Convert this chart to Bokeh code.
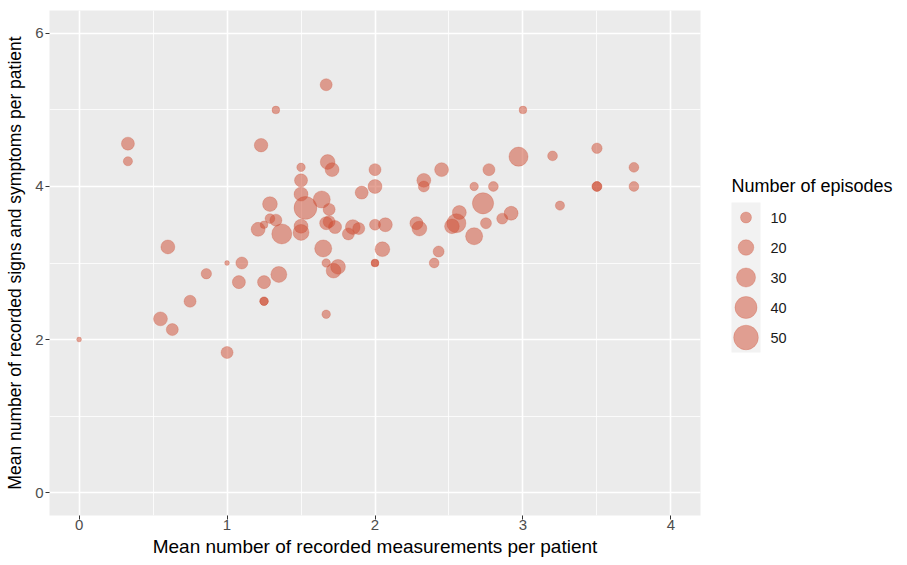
from bokeh.plotting import figure
from bokeh.models import Range1d, SingleIntervalTicker, ColumnDataSource
from bokeh.layouts import row
from bokeh.embed import file_html
from bokeh.resources import INLINE
from bokeh.core.properties import value
import numpy as np

# ---- data ----
measurements = [0.00, 0.33, 0.33, 0.60, 0.55, 0.63, 0.75, 0.86, 1.00, 1.00,
                1.10, 1.08, 1.33, 1.67, 1.23, 3.00, 2.97, 3.20, 3.50, 3.75,
                3.75, 3.50, 3.50, 3.25, 2.77, 2.67, 2.80, 2.73, 2.45, 2.57,
                2.55, 2.52, 2.75, 2.86, 2.92, 2.67, 1.68, 1.71, 2.00, 2.00,
                1.91, 2.33, 2.33, 1.64, 1.69, 1.67, 1.69, 1.73, 1.85, 1.89,
                1.82, 2.00, 2.07, 2.28, 2.30, 1.65, 1.67, 1.75, 1.72, 2.00,
                2.00, 2.05, 2.40, 2.43, 1.67, 1.50, 1.50, 1.50, 1.53, 1.29,
                1.29, 1.33, 1.25, 1.21, 1.37, 1.50, 1.50, 1.25, 1.35, 1.25,
                1.25]
symptoms = [2.00, 4.56, 4.33, 3.21, 2.27, 2.13, 2.50, 2.86, 3.00, 1.83,
            3.00, 2.75, 5.00, 5.33, 4.54, 5.00, 4.39, 4.40, 4.50, 4.25,
            4.00, 4.00, 4.00, 3.75, 4.22, 4.00, 4.00, 3.78, 4.22, 3.66,
            3.52, 3.48, 3.52, 3.58, 3.65, 3.35, 4.32, 4.22, 4.22, 4.00,
            3.92, 4.08, 4.00, 3.83, 3.70, 3.52, 3.54, 3.47, 3.47, 3.45,
            3.38, 3.50, 3.50, 3.52, 3.45, 3.19, 3.00, 2.95, 2.90, 3.00,
            3.00, 3.18, 3.00, 3.15, 2.33, 4.25, 4.08, 3.90, 3.72, 3.77,
            3.58, 3.56, 3.50, 3.44, 3.38, 3.48, 3.40, 2.75, 2.85, 2.50,
            2.50]
episodes = [2, 14, 7, 16, 16, 12, 12, 9, 2, 12,
            12, 14, 5, 12, 15, 5, 30, 8, 9, 8,
            8, 8, 8, 7, 12, 6, 8, 37, 16, 16,
            30, 18, 10, 10, 16, 24, 18, 16, 12, 16,
            14, 16, 10, 24, 12, 14, 12, 14, 18, 12,
            12, 10, 16, 14, 18, 24, 6, 18, 18, 5,
            5, 18, 8, 10, 6, 6, 14, 16, 43, 18,
            8, 12, 5, 16, 33, 16, 21, 14, 21, 6,
            6]
legend_values = [10, 20, 30, 40, 50]
x_ticks_max = 4
y_ticks_max = 6

POINT = "#CD4A30"
FONT = "Liberation Sans"

# layout constants (page pixels)
FRAME_LEFT, FRAME_RIGHT, FRAME_TOP, FRAME_BOTTOM = 49, 700, 10, 515
MAIN_W, H = 712, 561
LEG_W = 190


def diam(n):
    return np.sqrt(12.2 * np.asarray(n, dtype=float) - 1.3)


src = ColumnDataSource(dict(x=measurements, y=symptoms, n=episodes, s=diam(episodes)))

p = figure(width=MAIN_W, height=H, output_backend="svg", toolbar_location=None,
           x_range=Range1d(-0.05 * x_ticks_max, 1.05 * x_ticks_max),
           y_range=Range1d(-0.05 * y_ticks_max, 1.05 * y_ticks_max),
           min_border_left=FRAME_LEFT, min_border_right=MAIN_W - FRAME_RIGHT,
           min_border_top=FRAME_TOP, min_border_bottom=H - FRAME_BOTTOM)
p.background_fill_color = "#EBEBEB"
p.border_fill_color = "white"
p.outline_line_color = None

for ax in (p.xaxis[0], p.yaxis[0]):
    ax.ticker = SingleIntervalTicker(interval=1 if ax is p.xaxis[0] else 2, num_minor_ticks=2)
    ax.axis_line_color = None
    ax.major_tick_out = 4
    ax.major_tick_in = 0
    ax.major_tick_line_color = "#333333"
    ax.minor_tick_out = 0
    ax.minor_tick_in = 0
    ax.major_label_text_font = FONT
    ax.major_label_text_font_size = "15px"
    ax.major_label_text_color = "#4D4D4D"
    ax.axis_label_text_font = FONT
    ax.axis_label_text_font_style = "normal"
    ax.axis_label_text_color = "black"

p.xaxis.axis_label = "Mean number of recorded measurements per patient"
p.xaxis.axis_label_text_font_size = "19px"
p.xaxis.major_label_standoff = 0
p.xaxis.axis_label_standoff = 3
p.yaxis.axis_label = "Mean number of recorded signs and symptoms per patient"
p.yaxis.axis_label_text_font_size = "17.5px"
p.yaxis.major_label_standoff = 2
p.yaxis.axis_label_standoff = 7

for g in (p.xgrid[0], p.ygrid[0]):
    g.grid_line_color = "white"
    g.grid_line_width = 1.6
    g.minor_grid_line_color = "white"
    g.minor_grid_line_width = 0.8
p.xgrid[0].ticker = p.xaxis[0].ticker
p.ygrid[0].ticker = p.yaxis[0].ticker

p.scatter("x", "y", size="s", source=src, fill_color=POINT, fill_alpha=0.5,
          line_color=POINT, line_alpha=0.5, line_width=0.5)

# ---- legend panel (x: pixels from panel's left, y: page pixels) ----
lg = figure(width=LEG_W, height=H, output_backend="svg", toolbar_location=None,
            x_range=Range1d(0, LEG_W), y_range=Range1d(FRAME_BOTTOM, FRAME_TOP),
            x_axis_type=None, y_axis_type=None,
            min_border_left=0, min_border_right=0,
            min_border_top=FRAME_TOP, min_border_bottom=H - FRAME_BOTTOM)
lg.outline_line_color = None
lg.background_fill_color = "white"
lg.border_fill_color = "white"
lg.grid.visible = False

key_left, key_w, key_top, key_h = 19, 29, 202, 30
n_keys = len(legend_values)
centers_y = [key_top + key_h * (i + 0.5) for i in range(n_keys)]
lg.quad(left=[key_left], right=[key_left + key_w], top=[key_top],
        bottom=[key_top + key_h * n_keys], fill_color="#F2F2F2", line_color=None)
lg.scatter(x=[key_left + key_w / 2] * n_keys, y=centers_y, size=diam(legend_values),
           fill_color=POINT, fill_alpha=0.5, line_color=POINT, line_alpha=0.5, line_width=0.5)
lg.text(x=[key_left + key_w + 10] * n_keys, y=centers_y, text=[str(v) for v in legend_values],
        text_font=value(FONT), text_font_size="14.5px", text_baseline="middle",
        text_align="left", text_color="#1A1A1A")
lg.text(x=[key_left], y=[185], text=["Number of episodes"], text_font=value(FONT),
        text_font_size="18px", text_baseline="middle", text_align="left", text_color="black")

layout = row(p, lg)
open("out.html", "w").write(file_html(layout, INLINE))
